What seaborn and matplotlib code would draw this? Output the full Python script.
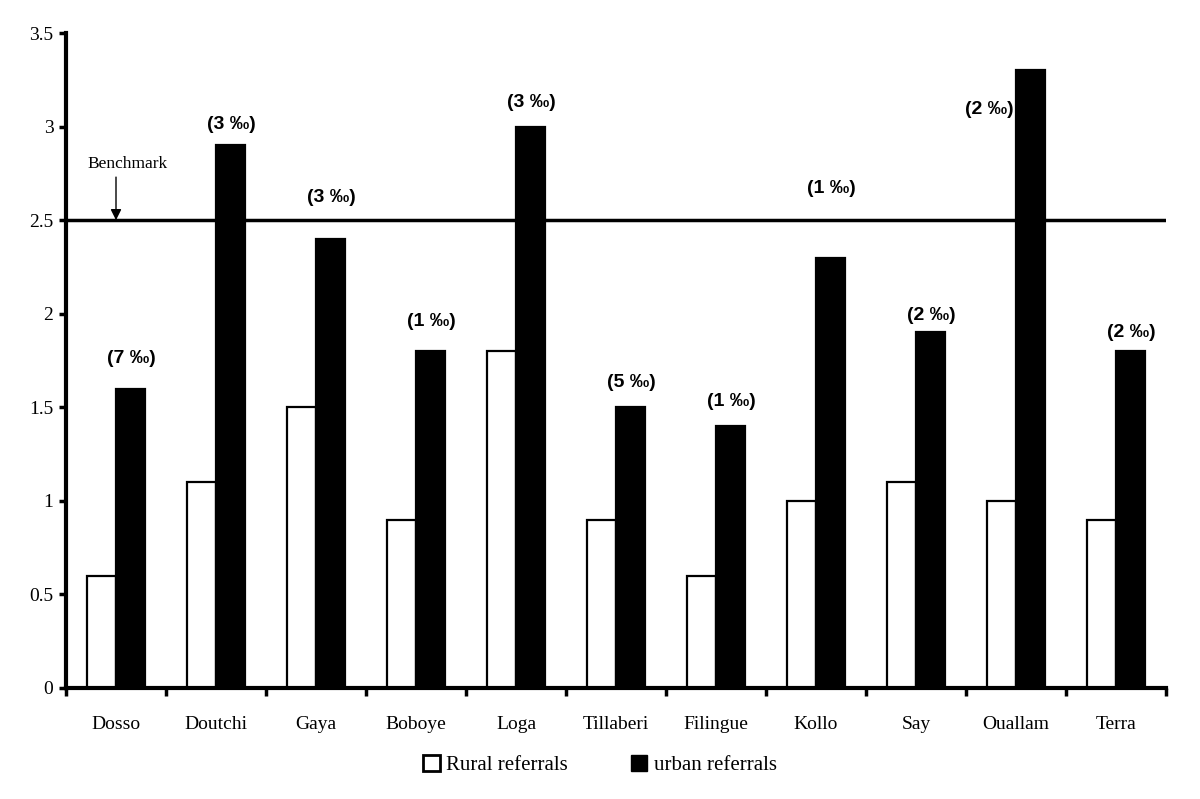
import pandas as pd
import matplotlib.pyplot as plt
import seaborn as sns
from matplotlib.patches import Patch

# data
districts = ['Dosso', 'Doutchi', 'Gaya', 'Boboye', 'Loga', 'Tillaberi',
             'Filingue', 'Kollo', 'Say', 'Ouallam', 'Terra']
rural = [0.6, 1.1, 1.5, 0.9, 1.8, 0.9, 0.6, 1.0, 1.1, 1.0, 0.9]
urban = [1.6, 2.9, 2.4, 1.8, 3.0, 1.5, 1.4, 2.3, 1.9, 3.3, 1.8]
permille = [7, 3, 3, 1, 3, 5, 1, 1, 2, 2, 2]
benchmark = 2.5
yticks = [0, 0.5, 1, 1.5, 2, 2.5, 3, 3.5]
ytick_labels = ['0', '0.5', '1', '1.5', '2', '2.5', '3', '3.5']

# label placement relative to the urban bar (not data)
label_gap = [0.16, 0.11, 0.22, 0.16, 0.13, 0.13, 0.13, 0.37, 0.09, -0.21, 0.10]

df = pd.DataFrame({
    'district': districts * 2,
    'value': rural + urban,
    'type': ['Rural referrals'] * len(districts) + ['urban referrals'] * len(districts),
})

sns.set_theme(style="white")
plt.rcParams['text.color'] = 'black'
plt.rcParams['xtick.color'] = 'black'
plt.rcParams['ytick.color'] = 'black'
serif = ['Liberation Serif', 'DejaVu Serif']
sans = ['Liberation Sans', 'DejaVu Sans']

fig = plt.figure(figsize=(12, 7.99), dpi=100)
ax = fig.add_axes([66 / 1200, 1 - 688 / 799, 1100 / 1200, 655 / 799])

sns.barplot(data=df, x='district', y='value', hue='type',
            hue_order=['Rural referrals', 'urban referrals'],
            palette=['white', 'black'], edgecolor='black', linewidth=1.6,
            width=0.58, ax=ax, legend=False)

ax.axhline(benchmark, color='black', lw=2.5, zorder=1)
ax.text(0.12, 2.8, 'Benchmark', ha='center', va='center', fontsize=12.5, family=serif)
ax.annotate('', xy=(0, benchmark), xytext=(0, 2.73),
            arrowprops=dict(arrowstyle='-|>', color='black', lw=1,
                            shrinkA=0, shrinkB=0, mutation_scale=16))

for i, (u, p, g) in enumerate(zip(urban, permille, label_gap)):
    if g < 0:
        ax.text(i - 0.02, u + g, f'({p} ‰)', ha='right', va='center',
                fontsize=14, fontweight='bold', family=sans)
    else:
        ax.text(i + 0.15, u + g, f'({p} ‰)', ha='center', va='center',
                fontsize=14, fontweight='bold', family=sans)

ax.set_xlim(-0.5, len(districts) - 0.5)
ax.set_ylim(0, 3.5)
ax.set_yticks(yticks)
ax.set_yticklabels(ytick_labels, family=serif, fontsize=14)
ax.set_xticks(range(len(districts)))
ax.set_xticklabels(districts, family=serif, fontsize=14)
ax.set_xticks([i - 0.5 for i in range(len(districts) + 1)], minor=True)
ax.tick_params(axis='x', which='major', length=0, pad=20)
ax.tick_params(axis='x', which='minor', length=6, width=2.5, direction='out',
               color='black', bottom=True)
ax.tick_params(axis='y', length=5, width=2.5, direction='out', color='black', pad=4,
               left=True)
ax.set_xlabel('')
ax.set_ylabel('')

sns.despine(ax=ax)
for s in ['left', 'bottom']:
    ax.spines[s].set_linewidth(3)
    ax.spines[s].set_color('black')

handles = [Patch(facecolor='white', edgecolor='black', linewidth=2),
           Patch(facecolor='black', edgecolor='black')]
fig.legend(handles, ['Rural referrals', 'urban referrals'], loc='center',
           bbox_to_anchor=(0.5, 1 - 765 / 799), ncol=2, frameon=False,
           prop={'family': serif, 'size': 15}, handlelength=0.8, handleheight=0.8,
           handletextpad=0.3, columnspacing=3)

plt.savefig('out.png', dpi=100)
